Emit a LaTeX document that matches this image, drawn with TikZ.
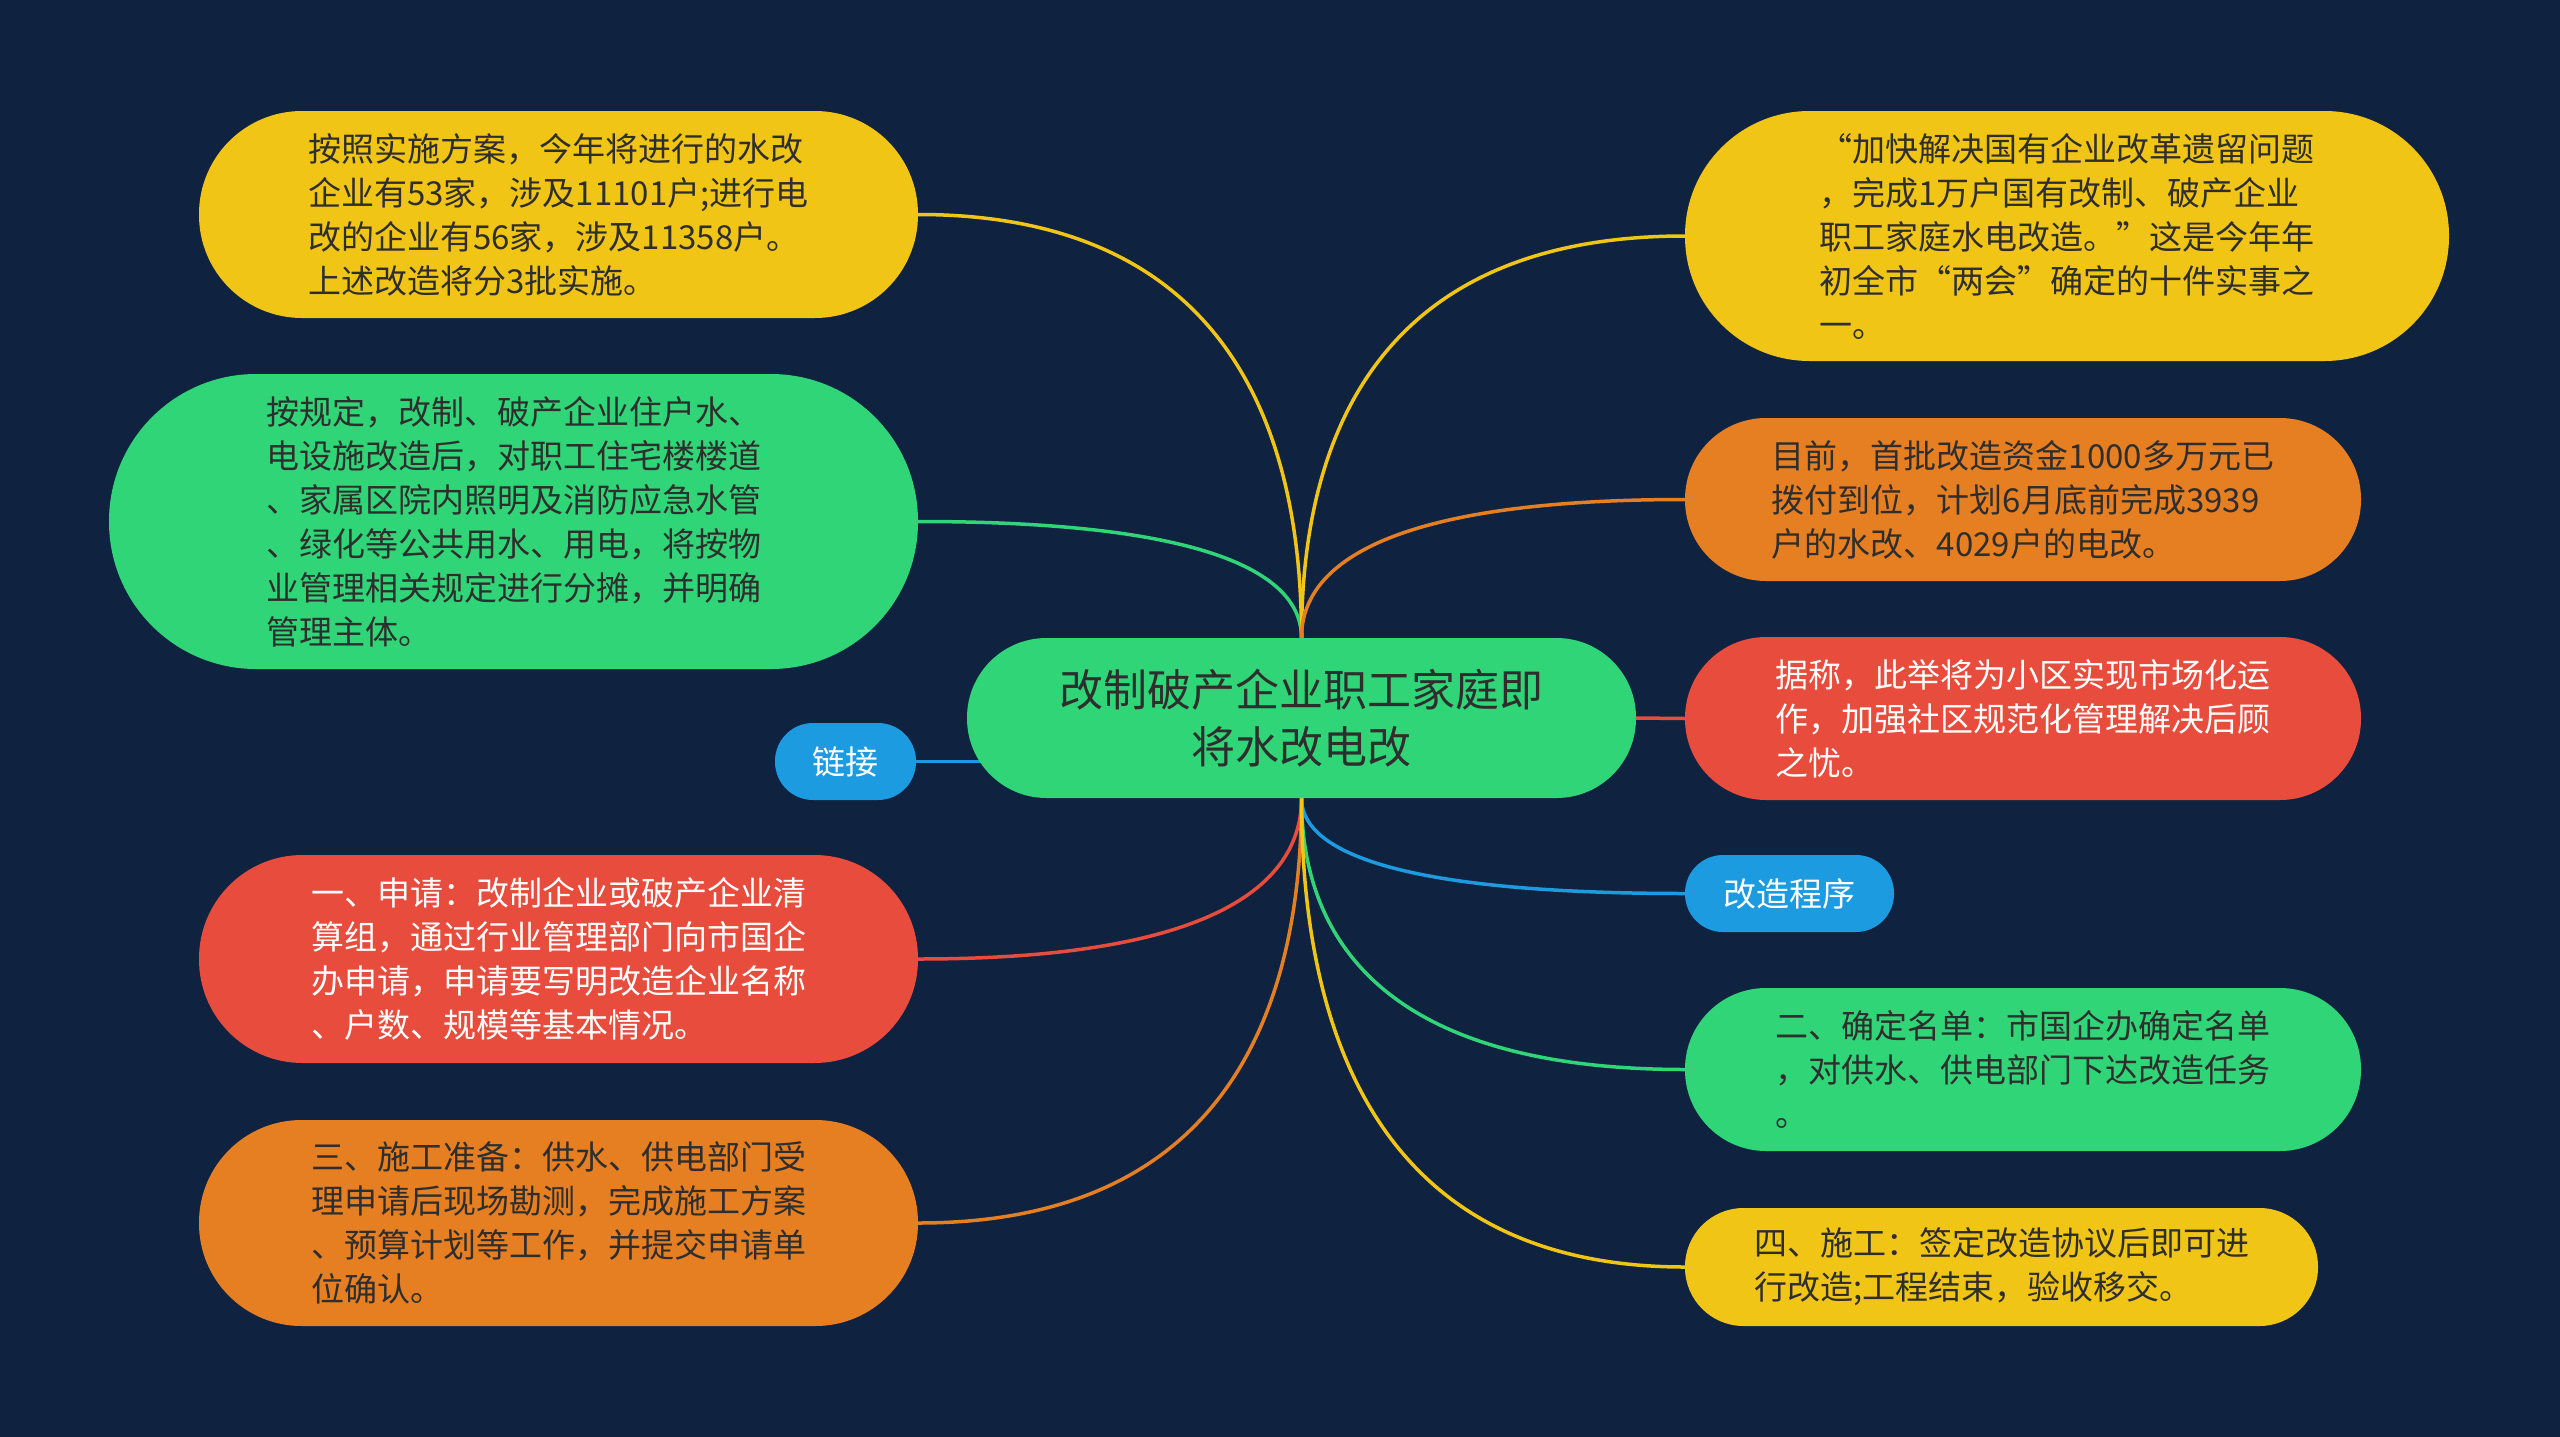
\documentclass[tikz,border=0pt]{standalone}
\usepackage{fontspec}
\setmainfont{Noto Sans CJK SC}
\usetikzlibrary{calc}
\definecolor{bgc}{HTML}{0F2240}
\definecolor{cyel}{HTML}{F1C515}
\definecolor{cgrn}{HTML}{30D577}
\definecolor{corg}{HTML}{E67E22}
\definecolor{cred}{HTML}{E74C3C}
\definecolor{cblu}{HTML}{1C9BE0}
\definecolor{dtxt}{HTML}{2E2E2E}
\pgfdeclarelayer{bg}
\pgfsetlayers{bg,main}
\tikzset{
  pill/.style n args={3}{shape=rectangle, inner sep=0pt, minimum width=#1, minimum height=#2, rounded corners=#3, align=left, font=\fontsize{33}{44}\selectfont},
  darktext/.style={text=dtxt},
  lighttext/.style={text=white},
  conn/.style={line width=3.5pt}
}
\newcommand{\mmcurve}[3]{\draw[conn,#1] (#2) .. controls ($(#2)!0.8!(#2 -| #3)$) and ($(#3)!0.5!(#3 |- #2)$) .. (#3);}
\begin{document}
\begin{tikzpicture}[x=1pt,y=-1pt]
\begin{pgfonlayer}{bg}
\fill[bgc] (0,0) rectangle (2560,1437);
\end{pgfonlayer}
\useasboundingbox (0,0) rectangle (2560,1437);

% center
\node[pill={669pt}{160pt}{79.5pt}, fill=cgrn, darktext, align=center, font=\fontsize{44}{57}\selectfont] (c) at (1301.5,718) {改制破产企业职工家庭即\\将水改电改};

% left side
\node[pill={719pt}{207pt}{103pt}, fill=cyel, darktext] (l1) at (558.5,214.5) {按照实施方案，今年将进行的水改\\企业有53家，涉及11101户;进行电\\改的企业有56家，涉及11358户。\\上述改造将分3批实施。};
\node[pill={809pt}{295pt}{147pt}, fill=cgrn, darktext] (l2) at (513.5,521.5) {按规定，改制、破产企业住户水、\\电设施改造后，对职工住宅楼楼道\\、家属区院内照明及消防应急水管\\、绿化等公共用水、用电，将按物\\业管理相关规定进行分摊，并明确\\管理主体。};
\node[pill={141pt}{77pt}{38pt}, fill=cblu, lighttext] (l3) at (845.5,761.5) {链接};
\node[pill={719pt}{208pt}{103.5pt}, fill=cred, lighttext] (l4) at (558.5,959) {一、申请：改制企业或破产企业清\\算组，通过行业管理部门向市国企\\办申请，申请要写明改造企业名称\\、户数、规模等基本情况。};
\node[pill={719pt}{206pt}{102.5pt}, fill=corg, darktext] (l5) at (558.5,1223) {三、施工准备：供水、供电部门受\\理申请后现场勘测，完成施工方案\\、预算计划等工作，并提交申请单\\位确认。};

% right side
\node[pill={764pt}{250pt}{124.5pt}, fill=cyel, darktext] (r1) at (2067,236) {“加快解决国有企业改革遗留问题\\，完成1万户国有改制、破产企业\\职工家庭水电改造。”这是今年年\\初全市“两会”确定的十件实事之\\一。};
\node[pill={676pt}{163pt}{81pt}, fill=corg, darktext] (r2) at (2023,499.5) {目前，首批改造资金1000多万元已\\拨付到位，计划6月底前完成3939\\户的水改、4029户的电改。};
\node[pill={676pt}{163pt}{81pt}, fill=cred, lighttext] (r3) at (2023,718.5) {据称，此举将为小区实现市场化运\\作，加强社区规范化管理解决后顾\\之忧。};
\node[pill={209pt}{77pt}{38pt}, fill=cblu, lighttext] (r4) at (1789.5,893.5) {改造程序};
\node[pill={676pt}{163pt}{81pt}, fill=cgrn, darktext] (r5) at (2023,1069.5) {二、确定名单：市国企办确定名单\\，对供水、供电部门下达改造任务\\。};
\node[pill={633pt}{118pt}{58.5pt}, fill=cyel, darktext] (r6) at (2001.5,1267) {四、施工：签定改造协议后即可进\\行改造;工程结束，验收移交。};

\begin{pgfonlayer}{bg}
\mmcurve{cyel}{l1.east}{c.north}
\mmcurve{cgrn}{l2.east}{c.north}
\draw[conn,cblu] (l3.east) -- (l3.east -| c.center);
\mmcurve{cred}{l4.east}{c.south}
\mmcurve{corg}{l5.east}{c.south}
\mmcurve{cyel}{r1.west}{c.north}
\mmcurve{corg}{r2.west}{c.north}
\draw[conn,cred] (c.east) -- (r3.west);
\mmcurve{cblu}{r4.west}{c.south}
\mmcurve{cgrn}{r5.west}{c.south}
\mmcurve{cyel}{r6.west}{c.south}
\end{pgfonlayer}
\end{tikzpicture}
\end{document}
